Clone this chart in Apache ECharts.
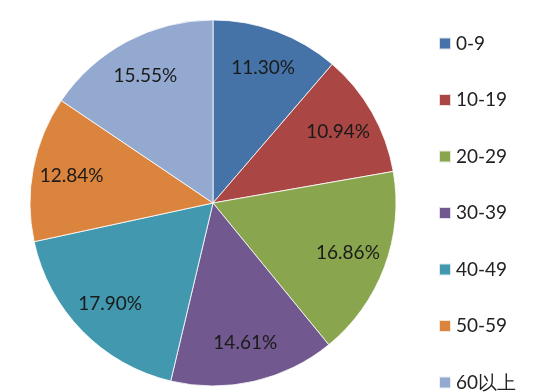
<!DOCTYPE html>
<html><head><meta charset="utf-8">
<script src="https://cdn.jsdelivr.net/npm/echarts@6/dist/echarts.min.js"></script>
<style>html,body{margin:0;padding:0;background:#fff}#c{width:540px;height:392px}</style>
</head><body><div id="c"></div>
<script>
const categories = ['0-9','10-19','20-29','30-39','40-49','50-59','60以上'];
const values = [11.30, 10.94, 16.86, 14.61, 17.90, 12.84, 15.55];
const colors = ['#4572A7','#AA4643','#89A54E','#71588F','#4198AF','#DB843D','#93A9CF'];

const data = categories.map((c,i)=>({name:c, value:values[i]}));
const chart = echarts.init(document.getElementById('c'), null, {renderer:'canvas'});
chart.setOption({
  animation:false,
  color: colors,
  legend:{
    orient:'vertical', left:438, top:34, height:420, padding:0,
    itemWidth:12, itemHeight:12, itemGap:37.5,
    icon:'rect',
    data: categories,
    textStyle:{fontFamily:'Lato', fontSize:19, color:'#222'}
  },
  series:[
    {
      type:'pie', center:[213,203], radius:[0,183],
      startAngle:90, clockwise:true,
      itemStyle:{borderColor:'rgba(255,255,255,0.8)', borderWidth:1},
      label:{show:false}, labelLine:{show:false},
      data: data, silent:true
    },
    {
      type:'pie', center:[213,203], radius:[0,282],
      startAngle:90, clockwise:true,
      itemStyle:{color:'transparent'},
      label:{show:true, position:'inside', formatter:p=>p.value.toFixed(2)+'%',
        fontFamily:'Lato', fontSize:19, color:'#1a1a1a'},
      labelLine:{show:false},
      data: data, silent:true
    }
  ]
});
</script></body></html>
